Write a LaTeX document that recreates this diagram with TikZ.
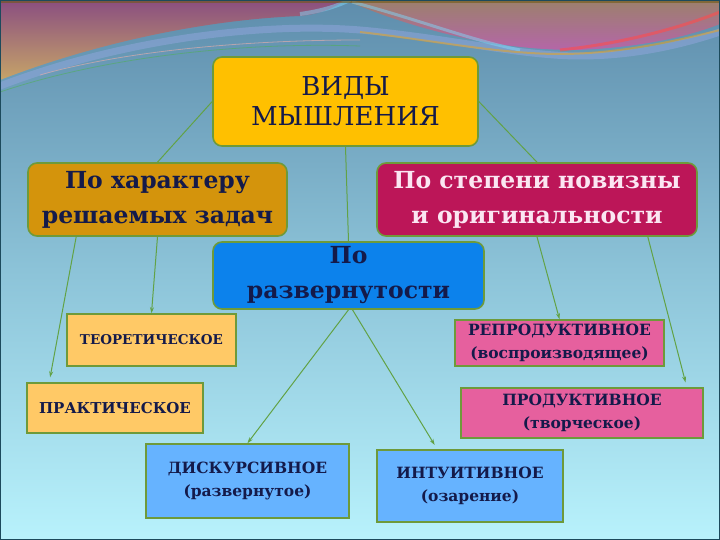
\documentclass[tikz,border=0pt]{standalone}
\usepackage{fontspec}
\setmainfont{DejaVu Serif}
\usetikzlibrary{arrows.meta, positioning, calc}

\definecolor{bgtop}{HTML}{5E8DAC}
\definecolor{bgmid}{HTML}{8CC3D8}
\definecolor{bgbot}{HTML}{B8F2FC}
\definecolor{frame}{HTML}{1C4A5C}
\definecolor{edge}{HTML}{6E9A3A}
\definecolor{linkgreen}{HTML}{62A245}
\definecolor{ink}{HTML}{141A4A}
\definecolor{rootfill}{HTML}{FFC000}
\definecolor{harfill}{HTML}{D4940C}
\definecolor{novfill}{HTML}{BC1658}
\definecolor{novtext}{HTML}{FBE6F2}
\definecolor{razfill}{HTML}{0C82EC}
\definecolor{orangefill}{HTML}{FFC966}
\definecolor{bluefill}{HTML}{66B3FF}
\definecolor{pinkfill}{HTML}{E6609E}
\definecolor{wavetop}{HTML}{8A4E80}
\definecolor{wavemid}{HTML}{B0788A}
\definecolor{wavelow}{HTML}{C6A468}
\definecolor{rwtop}{HTML}{9C806C}
\definecolor{rwlow}{HTML}{B466A8}

\begin{document}
\begin{tikzpicture}[x=1pt, y=-1pt,
    box/.style={draw=edge, line width=1.6pt, align=center, inner sep=0pt, text=ink},
    root/.style={box, rounded corners=9pt, fill=rootfill, minimum width=265pt,
        minimum height=89pt, font=\fontsize{26}{30}\selectfont},
    cat/.style={box, rounded corners=9pt, minimum height=73pt,
        font=\bfseries\fontsize{23.5}{35}\selectfont},
    leaf/.style={box, font=\bfseries\fontsize{15.5}{23}\selectfont},
    link/.style={linkgreen, line width=1pt},
    arr/.style={link, -{Stealth[length=6pt, width=4pt]}, shorten >=5pt}
]
\useasboundingbox (0,0) rectangle (720,540);

% ---- background ----
\shade[top color=bgtop, bottom color=bgbot, middle color=bgmid] (0,0) rectangle (720,540);

% top ribbons
\shade[top color=wavetop, middle color=wavemid, bottom color=wavelow]
    (0,0) -- (0,80) .. controls (90,45) and (200,20) .. (300,16)
    .. controls (320,14) and (335,8) .. (345,0) -- cycle;
\shade[top color=rwtop, bottom color=rwlow]
    (345,0) .. controls (420,32) and (500,50) .. (575,50)
    .. controls (640,48) and (690,36) .. (720,24) -- (720,0) -- cycle;
\draw[cyan!40!blue!45!white, line width=7pt, opacity=0.55]
    (0,86) .. controls (120,40) and (260,22) .. (360,30)
    .. controls (450,38) and (520,56) .. (580,56) .. controls (640,56) and (690,42) .. (720,32);
\draw[cyan!50!white, line width=4pt, opacity=0.5]
    (300,14) .. controls (330,10) and (345,2) .. (350,0);
\draw[cyan!50!white, line width=3pt, opacity=0.5]
    (352,2) .. controls (420,20) and (470,40) .. (520,50);
\draw[orange!70!yellow, line width=2pt, opacity=0.45]
    (360,32) .. controls (430,40) and (500,54) .. (560,54) .. controls (620,54) and (680,40) .. (720,30);
\draw[red!60!pink, line width=3pt, opacity=0.6]
    (560,50) .. controls (620,44) and (680,28) .. (720,12);
\draw[pink!70!gray, line width=0.8pt, opacity=0.7]
    (40,75) .. controls (120,52) and (240,40) .. (360,40);
\draw[green!40!gray, line width=0.8pt, opacity=0.5]
    (0,92) .. controls (110,55) and (250,42) .. (360,46);
\fill[brown!50!olive!70!black, opacity=0.6] (0,0) rectangle (720,3);

% ---- main node ----
\node[root] (root) at (345.5,101.5) {ВИДЫ\\МЫШЛЕНИЯ};

% ---- categories ----
\node[cat, fill=harfill, minimum width=259pt] (har) at (157.5,199.5) {По характеру\\решаемых задач};
\node[cat, fill=novfill, text=novtext, minimum width=320pt] (nov) at (537,199.5) {По степени новизны\\и оригинальности};
\node[cat, fill=razfill, minimum width=271pt, minimum height=67pt] (raz) at (348.5,275.5) {По\\развернутости};

% ---- types ----
\node[leaf, fill=orangefill, minimum width=169pt, minimum height=52pt,
    font=\bfseries\fontsize{13.5}{23}\selectfont] (teo) at (151.5,340) {ТЕОРЕТИЧЕСКОЕ};
\node[leaf, fill=orangefill, minimum width=176pt, minimum height=50pt,
    font=\bfseries\fontsize{15}{23}\selectfont] (prak) at (115,408) {ПРАКТИЧЕСКОЕ};
\node[leaf, fill=bluefill, minimum width=203pt, minimum height=74pt] (dis) at (247.5,481) {ДИСКУРСИВНОЕ\\(развернутое)};
\node[leaf, fill=bluefill, minimum width=186pt, minimum height=72pt] (int) at (470,486) {ИНТУИТИВНОЕ\\(озарение)};
\node[leaf, fill=pinkfill, minimum width=209pt, minimum height=46pt] (rep) at (559.5,343) {РЕПРОДУКТИВНОЕ\\(воспроизводящее)};
\node[leaf, fill=pinkfill, minimum width=242pt, minimum height=50pt] (prod) at (582,413) {ПРОДУКТИВНОЕ\\(творческое)};

% ---- connectors ----
\draw[link] (root.west) -- (har.north);
\draw[link] (root.south) -- (raz.north);
\draw[link] (root.east) -- (nov.north);

\draw[arr] ([xshift=49pt]har.south west) -- ([xshift=23pt]prak.north west);
\draw[arr, shorten >=0pt] (har.south) -- (teo.north);
\draw[arr, shorten >=0pt] (raz.south) -- (dis.north);
\draw[arr] ([xshift=4pt]raz.south) -- ([xshift=61pt]int.north west);
\draw[arr, shorten >=0pt] (nov.south) -- (rep.north);
\draw[arr] ([xshift=-50pt]nov.south east) -- ([xshift=-17pt]prod.north east);

% ---- frame ----
\draw[frame, line width=2.5pt] (0,0) rectangle (720,540);
\end{tikzpicture}
\end{document}
